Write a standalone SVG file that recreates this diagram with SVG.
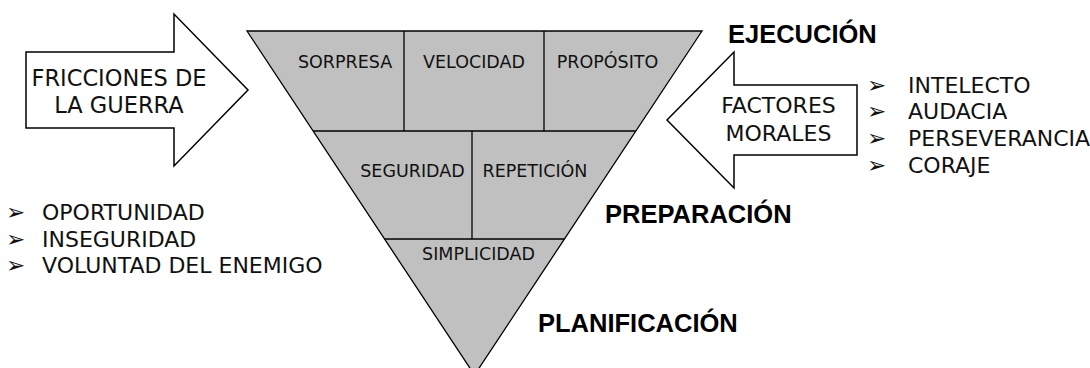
<svg xmlns="http://www.w3.org/2000/svg" width="1090" height="368" viewBox="0 0 1090 368">
<style>
.shape{fill:#ffffff;stroke:#000000;stroke-width:1.5;stroke-linejoin:miter}
.tri{fill:#c0c0c0;stroke:#000000;stroke-width:1.3}
.div{fill:none;stroke:#000000;stroke-width:1.3}
.t{font-family:"DejaVu Sans",Verdana,sans-serif;fill:#111111}
.cell{font-size:17.5px;text-anchor:middle}
.big{font-size:22px;text-anchor:middle}
.item{font-size:22px}
.bul{font-size:23px}
.head{font-family:"Liberation Sans",Arial,sans-serif;font-weight:bold;font-size:25.5px;fill:#000000}
</style>
<rect width="1090" height="368" fill="#ffffff"/>
<g id="pyramid">
<polygon class="tri" points="247,31 702,31 474.5,375"/>
<line class="div" x1="313.2" y1="131" x2="636" y2="131"/>
<line class="div" x1="384.7" y1="239" x2="564.5" y2="239"/>
<line class="div" x1="404" y1="31" x2="404" y2="131"/>
<line class="div" x1="544" y1="31" x2="544" y2="131"/>
<line class="div" x1="472" y1="131" x2="472" y2="239"/>
<text class="t cell" x="345" y="68">SORPRESA</text>
<text class="t cell" x="474" y="68">VELOCIDAD</text>
<text class="t cell" x="607.5" y="68">PROPÓSITO</text>
<text class="t cell" x="412.5" y="177">SEGURIDAD</text>
<text class="t cell" x="535" y="177">REPETICIÓN</text>
<text class="t cell" x="478.5" y="260">SIMPLICIDAD</text>
</g>
<g id="fricciones">
<polygon class="shape" points="26,52 174,52 174,14 248,90 174,166 174,128 26,128"/>
<text class="t big" x="119" y="86" style="font-size:22.5px">FRICCIONES DE</text>
<text class="t big" x="119" y="113" style="font-size:22.5px">LA GUERRA</text>
</g>
<g id="factores">
<polygon class="shape" points="857,85 734,85 734,52 667,120 734,188 734,155 857,155"/>
<text class="t big" x="778.5" y="113">FACTORES</text>
<text class="t big" x="778.5" y="141">MORALES</text>
</g>
<g id="ejecucion"><text class="head" x="728" y="43">EJECUCIÓN</text></g>
<g id="preparacion"><text class="head" x="605" y="223">PREPARACIÓN</text></g>
<g id="planificacion"><text class="head" x="538" y="332">PLANIFICACIÓN</text></g>
<g id="lista-morales">
<text class="t item" x="867" y="93"><tspan class="bul">➢</tspan><tspan x="908">INTELECTO</tspan></text>
<text class="t item" x="867" y="119"><tspan class="bul">➢</tspan><tspan x="908">AUDACIA</tspan></text>
<text class="t item" x="867" y="146"><tspan class="bul">➢</tspan><tspan x="908">PERSEVERANCIA</tspan></text>
<text class="t item" x="867" y="173"><tspan class="bul">➢</tspan><tspan x="908">CORAJE</tspan></text>
</g>
<g id="lista-fricciones">
<text class="t item" x="6" y="220"><tspan class="bul">➢</tspan><tspan x="42">OPORTUNIDAD</tspan></text>
<text class="t item" x="6" y="247"><tspan class="bul">➢</tspan><tspan x="42">INSEGURIDAD</tspan></text>
<text class="t item" x="6" y="273"><tspan class="bul">➢</tspan><tspan x="42">VOLUNTAD DEL ENEMIGO</tspan></text>
</g>
<g id="connectors"/>
</svg>
